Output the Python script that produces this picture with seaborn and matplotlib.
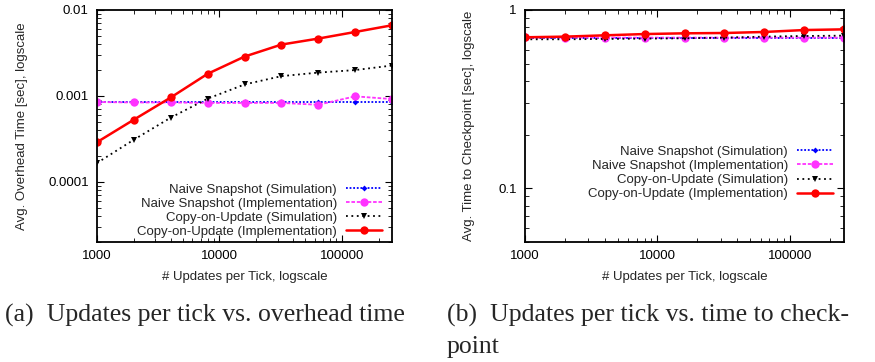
import matplotlib
matplotlib.use("Agg")
import matplotlib.pyplot as plt
import matplotlib.ticker as mticker
import seaborn as sns
import pandas as pd

# x values: updates per tick
updates = [1000, 2000, 4000, 8000, 16000, 32000, 64000, 128000, 256000]

# (a) avg. overhead time [sec]
overhead_naive_sim = [0.00084, 0.00084, 0.00084, 0.00084, 0.00084, 0.00084, 0.00084, 0.00084, 0.00084]
overhead_naive_impl = [0.00085, 0.00084, 0.00084, 0.00083, 0.00083, 0.00083, 0.00079, 0.00099, 0.00092]
overhead_cou_sim = [0.000166, 0.00031, 0.00056, 0.00093, 0.00136, 0.0017, 0.00187, 0.002, 0.00226]
overhead_cou_impl = [0.00029, 0.00053, 0.00096, 0.00181, 0.00287, 0.00396, 0.00465, 0.00555, 0.00664]

# (b) avg. time to checkpoint [sec]
ckpt_naive_sim = [0.694, 0.694, 0.694, 0.694, 0.694, 0.694, 0.694, 0.694, 0.694]
ckpt_naive_impl = [0.703, 0.700, 0.700, 0.700, 0.700, 0.700, 0.700, 0.700, 0.700]
ckpt_cou_sim = [0.685, 0.685, 0.688, 0.691, 0.694, 0.700, 0.709, 0.715, 0.718]
ckpt_cou_impl = [0.703, 0.709, 0.721, 0.733, 0.740, 0.743, 0.753, 0.772, 0.779]

labels = ["Naive Snapshot (Simulation)", "Naive Snapshot (Implementation)",
          "Copy-on-Update (Simulation)", "Copy-on-Update (Implementation)"]

styles = [
    dict(color="#0000ff", linestyle=(0, (1, 1)), marker="D", markersize=3, linewidth=1.3),
    dict(color="#ff33ff", linestyle=(0, (2, 1)), marker="o", markersize=6, linewidth=1.3),
    dict(color="black", linestyle=(0, (1, 2)), marker="v", markersize=5, linewidth=1.3),
    dict(color="#ff0000", linestyle="-", marker="o", markersize=6, linewidth=1.8),
]

sns.set_style("ticks")
plt.rcParams['font.family'] = ['Liberation Sans', 'DejaVu Sans']

fig = plt.figure(figsize=(8.75, 3.62), dpi=100)
ax1 = fig.add_axes([97 / 875, 1 - 242 / 362, 295 / 875, 232 / 362])
ax2 = fig.add_axes([525 / 875, 1 - 242 / 362, 319 / 875, 232 / 362])


def draw(ax, series, ylim, yticks, ylabel, anchor, label_x):
    for ys, lab, st in zip(series, labels, styles):
        df = pd.DataFrame({"x": updates, "y": ys})
        sns.lineplot(data=df, x="x", y="y", ax=ax, label=lab, markeredgewidth=0, **st)
    ax.set_xscale("log")
    ax.set_yscale("log")
    ax.set_xlim(1000, 256000)
    ax.set_ylim(*ylim)
    ax.set_xticks([1000, 10000, 100000])
    ax.xaxis.set_major_formatter(mticker.FuncFormatter(lambda v, p: "%d" % round(v)))
    ax.set_yticks(yticks)
    ax.yaxis.set_major_formatter(mticker.FuncFormatter(lambda v, p: ("%g" % v) if v >= 0.001 else "%.4f" % v))
    ax.xaxis.set_minor_formatter(mticker.NullFormatter())
    ax.yaxis.set_minor_formatter(mticker.NullFormatter())
    ax.tick_params(which="both", direction="in", top=True, right=True, labelsize=9.5, colors="black")
    ax.tick_params(which="major", length=5, width=0.8, pad=6)
    ax.tick_params(which="minor", length=3, width=0.6)
    for s in ax.spines.values():
        s.set_linewidth(1.3)
        s.set_color("black")
    ax.set_xlabel("# Updates per Tick, logscale", fontsize=9.5, labelpad=6)
    ax.set_ylabel(ylabel, fontsize=9.5)
    ax.yaxis.set_label_coords(label_x, 0.5)
    ax.legend(loc="lower right", bbox_to_anchor=anchor, frameon=False, markerfirst=False,
              fontsize=9.5, handlelength=2.7, handletextpad=0.7, labelspacing=0.14,
              borderaxespad=0, borderpad=0)


draw(ax1, [overhead_naive_sim, overhead_naive_impl, overhead_cou_sim, overhead_cou_impl],
     (2e-5, 0.01), [0.0001, 0.001, 0.01], "Avg. Overhead Time [sec], logscale", (0.965, 0.018), -0.234)
draw(ax2, [ckpt_naive_sim, ckpt_naive_impl, ckpt_cou_sim, ckpt_cou_impl],
     (0.05, 1), [0.1, 1], "Avg. Time to Checkpoint [sec], logscale", (0.965, 0.18), -0.157)

cap = dict(family=["Liberation Serif", "DejaVu Serif"], fontsize=18.5, va="baseline", ha="left")
fig.text(5 / 875, 1 - 322 / 362, "(a)  Updates per tick vs. overhead time", **cap)
fig.text(447 / 875, 1 - 322 / 362, "(b)  Updates per tick vs. time to check-", **cap)
fig.text(447 / 875, 1 - 353 / 362, "point", **cap)

fig.savefig("out.png", dpi=100)
